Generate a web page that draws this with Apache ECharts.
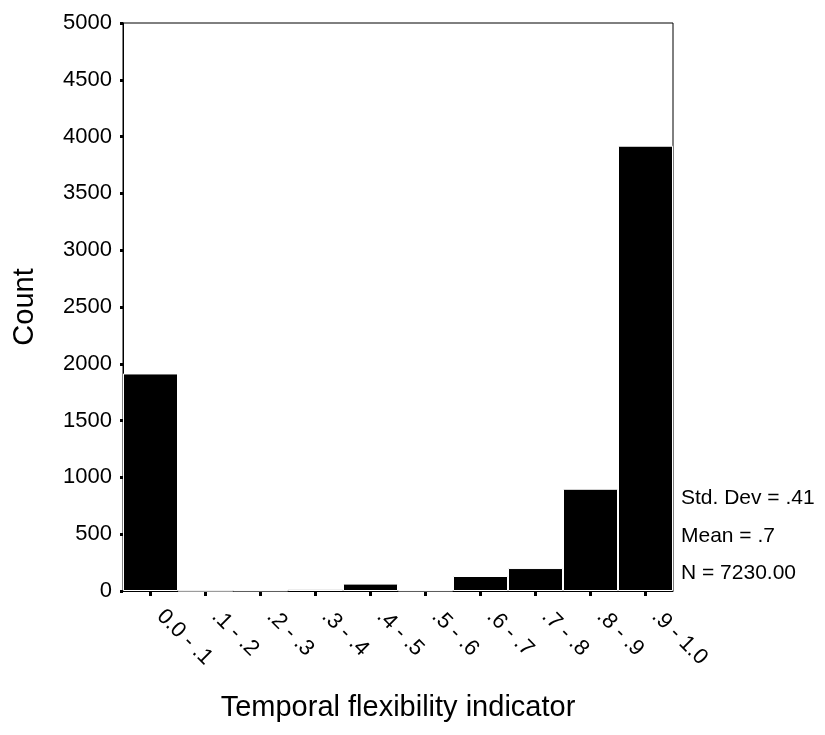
<!DOCTYPE html>
<html>
<head>
<meta charset="utf-8">
<script src="https://cdn.jsdelivr.net/npm/echarts@6/dist/echarts.min.js"></script>
<style>
html,body{margin:0;padding:0;background:#fff;}
#chart{width:825px;height:735px;}
</style>
</head>
<body>
<div id="chart"></div>
<script>
const categories = ['0.0 - .1', '.1 - .2', '.2 - .3', '.3 - .4', '.4 - .5', '.5 - .6', '.6 - .7', '.7 - .8', '.8 - .9', '.9 - 1.0'];
const counts = [1915, 2, 5, 15, 65, 5, 132, 202, 900, 3920];
const yTicks = { min: 0, max: 5000, interval: 500 };
const statsLines = ['Std. Dev = .41', 'Mean = .7', 'N = 7230.00'];
const xTitle = 'Temporal flexibility indicator';
const yTitle = 'Count';

const FONT = '"Liberation Sans", Arial, sans-serif';
const chart = echarts.init(document.getElementById('chart'), null, { renderer: 'canvas' });
const statsY = [498, 536, 573];

chart.setOption({
  animation: false,
  backgroundColor: '#fff',
  grid: { left: 123, right: 152, top: 23, bottom: 144, show: true, borderColor: '#000', borderWidth: 1, backgroundColor: 'transparent' },
  xAxis: {
    type: 'category',
    data: categories,
    boundaryGap: true,
    name: xTitle,
    nameLocation: 'middle',
    nameGap: 102,
    nameTextStyle: { fontFamily: FONT, fontSize: 29, color: '#000' },
    axisLine: { lineStyle: { color: '#000', width: 1 } },
    axisTick: { show: true, alignWithLabel: true, length: 5, lineStyle: { color: '#000', width: 3 } },
    axisLabel: { rotate: -45, fontFamily: FONT, fontSize: 22, color: '#000', margin: 12, padding: [0, 0, 0, 14], interval: 0 },
    splitLine: { show: false }
  },
  yAxis: {
    type: 'value',
    min: yTicks.min, max: yTicks.max, interval: yTicks.interval,
    name: yTitle,
    nameLocation: 'middle',
    nameGap: 84,
    nameRotate: 90,
    nameTextStyle: { fontFamily: FONT, fontSize: 29, color: '#000' },
    axisLine: { show: true, lineStyle: { color: '#000', width: 1 } },
    axisTick: { show: true, length: 3, lineStyle: { color: '#000', width: 3 } },
    axisLabel: { fontFamily: FONT, fontSize: 22, color: '#000', margin: 11, formatter: v => String(v) },
    splitLine: { show: false }
  },
  series: [{
    type: 'bar',
    data: counts,
    barCategoryGap: '0%',
    barGap: '0%',
    itemStyle: { color: '#000', borderColor: '#fff', borderWidth: 1 },
    emphasis: { disabled: true }
  }],
  graphic: statsLines.map((t, i) => ({
    type: 'text',
    x: 681,
    y: statsY[i],
    style: { text: t, fontFamily: FONT, fontSize: 21, fill: '#000', verticalAlign: 'middle', align: 'left' }
  }))
});
</script>
</body>
</html>
